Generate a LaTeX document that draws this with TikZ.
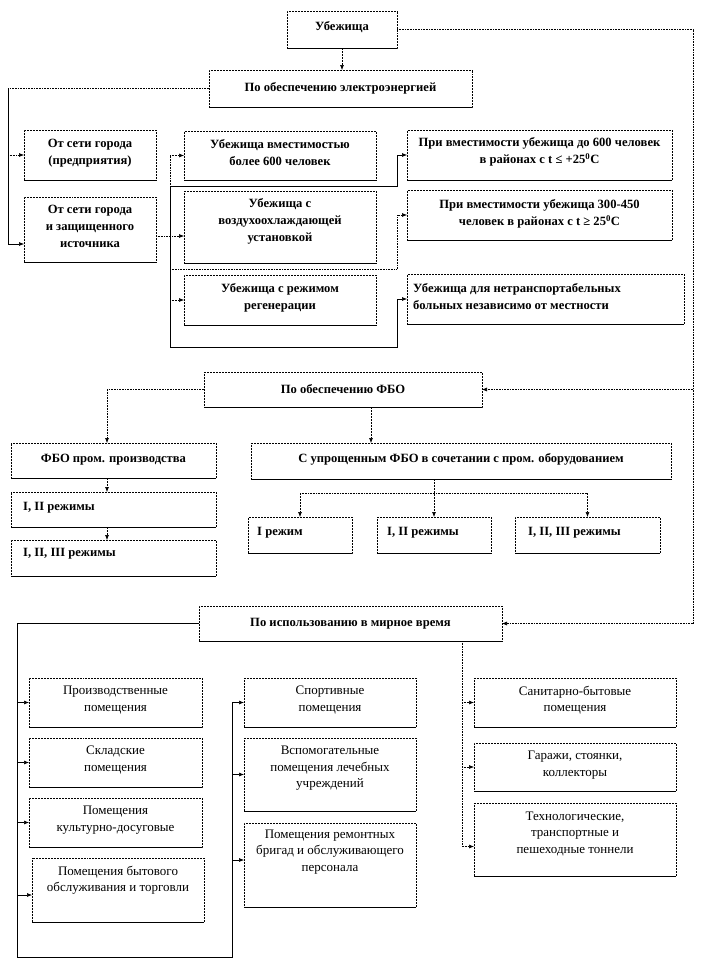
\documentclass[tikz,border=0pt]{standalone}
\usepackage{fontspec}
\setmainfont{Liberation Serif}
\usetikzlibrary{arrows.meta,calc}
\newcommand{\bx}[7][]{%
  \pgfmathsetmacro{\bw}{#5-#3}%
  \pgfmathsetmacro{\bh}{#6-#4}%
  \pgfmathsetmacro{\bcx}{(#3+#5)/2}%
  \pgfmathsetmacro{\bcy}{(#4+#6)/2}%
  \node[boxst, minimum width=\bw pt, minimum height=\bh pt] (#2) at (\bcx,\bcy) {};
  \draw[solidl] (#2.south west) -- (#2.south east);
  \node[txt, #1] (#2t) at (#2) {#7};
}
\begin{document}
\begin{tikzpicture}[x=1pt,y=-1pt,
  boxst/.style={draw, densely dotted, line width=0.5pt, inner sep=0pt, outer sep=0pt},
  solidl/.style={line width=0.6pt},
  dotl/.style={densely dotted, line width=0.6pt},
  dashl/.style={dash pattern=on 2pt off 1pt, line width=0.6pt},
  arr/.style={-{Latex[length=5pt,width=4pt]}},
  txt/.style={font=\fontsize{12.6}{17}\selectfont\bfseries, align=center, inner sep=0pt},
  reg/.style={font=\fontsize{13}{16.5}\selectfont},
  lft/.style={anchor=west, align=left, xshift={-0.5*\bw pt+#1pt}},
]
\fill[white] (0,0) rectangle (708,961);
\useasboundingbox (0,0) rectangle (708,961);

% top level
\bx[yshift=2pt]{ub}{287}{11}{397}{48}{Убежища}
\bx{el}{209}{70}{472}{107}{По обеспечению электроэнергией}
\bx[yshift=2pt]{A1}{24}{130}{156}{180}{От сети города\\(предприятия)}
\bx[yshift=3.5pt]{A2}{24}{197}{156}{262}{От сети города\\и защищенного\\источника}
\bx[yshift=3pt]{B1}{184}{131}{376}{180}{Убежища вместимостью\\более 600 человек}
\bx[yshift=6pt]{B2}{184}{191}{376}{263}{Убежища с\\воздухоохлаждающей\\установкой}
\bx[yshift=2pt]{B3}{184}{275}{376}{325}{Убежища с режимом\\регенерации}
\bx[yshift=3pt]{C1}{407}{130}{672}{180}{При вместимости убежища до 600 человек\\в районах с t ≤ +25\textsuperscript{0}C}
\bx[yshift=1pt]{C2}{407}{190}{672}{240}{При вместимости убежища 300-450\\человек в районах с t ≥ 25\textsuperscript{0}C}
\bx[lft=6, yshift=2pt]{C3}{407}{274}{684}{324}{Убежища для нетранспортабельных\\больных независимо от местности}

% FBO
\bx{fbo}{204}{372}{482}{407}{По обеспечению ФБО}
\bx[yshift=1pt]{F1}{11}{443}{216}{478}{ФБО пром. производства}
\bx[lft=12, yshift=2pt]{F2}{11}{492}{216}{527}{I, II режимы}
\bx[lft=12, yshift=4pt]{F3}{11}{540}{216}{576}{I, II, III режимы}
\bx[yshift=2pt]{S}{251}{443}{671}{479}{С упрощенным ФБО в сочетании с пром. оборудованием}
\bx[lft=9, yshift=2pt]{T1}{248}{517}{352}{553}{I режим}
\bx[lft=10, yshift=2pt]{T2}{377}{517}{491}{553}{I, II режимы}
\bx[lft=13, yshift=2pt]{T3}{515}{517}{660}{553}{I, II, III режимы}

% peace time
\bx{mir}{199}{606}{502}{641}{По использованию в мирное время}
\bx[reg, yshift=2.5pt]{L1}{29}{678}{202}{727}{Производственные\\помещения}
\bx[reg, yshift=2.5pt]{L2}{29}{738}{202}{787}{Складские\\помещения}
\bx[reg, yshift=2.5pt]{L3}{29}{798}{202}{847}{Помещения\\культурно-досуговые}
\bx[reg, yshift=10pt]{L4}{32}{858}{204}{922}{Помещения бытового\\обслуживания и торговли}
\bx[reg, yshift=2.5pt]{M1}{244}{678}{416}{727}{Спортивные\\помещения}
\bx[reg, yshift=6pt]{M2}{244}{738}{416}{811}{Вспомогательные\\помещения лечебных\\учреждений}
\bx[reg, yshift=13pt]{M3}{244}{823}{416}{907}{Помещения ремонтных\\бригад и обслуживающего\\персонала}
\bx[reg, yshift=2.5pt]{R1}{474}{678}{676}{727}{Санитарно-бытовые\\помещения}
\bx[reg, yshift=2pt]{R2}{474}{743}{676}{791}{Гаражи, стоянки,\\коллекторы}
\bx[reg, yshift=6pt]{R3}{474}{803}{676}{876}{Технологические,\\транспортные и\\пешеходные тоннели}

% connectors: top
\draw[dashl,arr] (ub.south) -- (ub.south |- el.north);
\coordinate (Rx) at (693,0);
\draw[dotl] (ub.east) -- (ub.east -| Rx) -- (Rx |- mir.east);
\draw[dotl,arr] (Rx |- mir.east) -- (mir.east);
\draw[dotl,arr] (Rx |- fbo.east) -- (fbo.east);

\coordinate (Lx) at (8,0);
\coordinate (A2in) at (0,244);
\draw[dotl] (el.west) -- (el.west -| Lx);
\draw[solidl,arr] (el.west -| Lx) |- (A2in -| A2.west);
\draw[dotl,arr] (Lx |- A1.west) -- (A1.west);

\coordinate (yAB) at (0,236);
\draw[dotl,arr] (yAB -| A2.east) -- (yAB -| B2.west);

\coordinate (Vx) at (170,0);
\coordinate (Kx) at (397,0);
\coordinate (h1) at (0,186);
\coordinate (h2) at (0,269);
\coordinate (h3) at (0,347);
\draw[dotl] (Vx |- B1.west) -- (Vx |- h1);
\draw[solidl] (Vx |- h1) -- (Vx |- h3);
\draw[dotl,arr] (Vx |- B1.west) -- (B1.west);
\draw[dotl,arr] (Vx |- B3.west) -- (B3.west);
\draw[solidl,arr] (Vx |- h1) -| (Kx |- C1.west) -- (C1.west);
\draw[dotl,arr] (Vx |- h2) -| (Kx |- C2.west) -- (C2.west);
\draw[solidl,arr] (Vx |- h3) -| (Kx |- C3.west) -- (C3.west);

% FBO connectors
\coordinate (Fx) at (107,0);
\draw[dotl,arr] (fbo.west) -| (Fx |- F1.north);
\draw[dashl,arr] (Fx |- F1.south) -- (Fx |- F2.north);
\draw[dashl,arr] (Fx |- F2.south) -- (Fx |- F3.north);
\coordinate (Sx) at (371,0);
\draw[dashl,arr] (Sx |- fbo.south) -- (Sx |- S.north);
\coordinate (hS) at (0,493);
\draw[dashl,arr] (T2.north |- S.south) -- (T2.north);
\draw[dotl] (T1.north |- hS) -- (T3.north |- hS);
\draw[dashl,arr] (T1.north |- hS) -- (T1.north);
\draw[dashl,arr] (T3.north |- hS) -- (T3.north);

% peace-time connectors
\coordinate (xL) at (17,0);
\coordinate (xM) at (232,0);
\coordinate (xR) at (462,0);
\coordinate (yB) at (0,957);
\draw[solidl,arr] (mir.west) -| (xL |- yB) -| (xM |- M1.west) -- (M1.west);
\foreach \n in {L1,L2,L3} \draw[solidl,arr] (xL |- \n.west) -- (\n.west);
\coordinate (L4in) at ($(L4.west)+(0,5)$);
\draw[solidl,arr] (xL |- L4in) -- (L4in);
\draw[solidl,arr] (xM |- M2.west) -- (M2.west);
\coordinate (M3in) at ($(M3.west)+(0,-5)$);
\draw[solidl,arr] (xM |- M3in) -- (M3in);
\coordinate (R3in) at ($(R3.west)+(0,7)$);
\draw[dotl,arr] (xR |- mir.south) |- (R3in);
\draw[dotl,arr] (xR |- R1.west) -- (R1.west);
\draw[dotl,arr] (xR |- R2.west) -- (R2.west);
\end{tikzpicture}
\end{document}
